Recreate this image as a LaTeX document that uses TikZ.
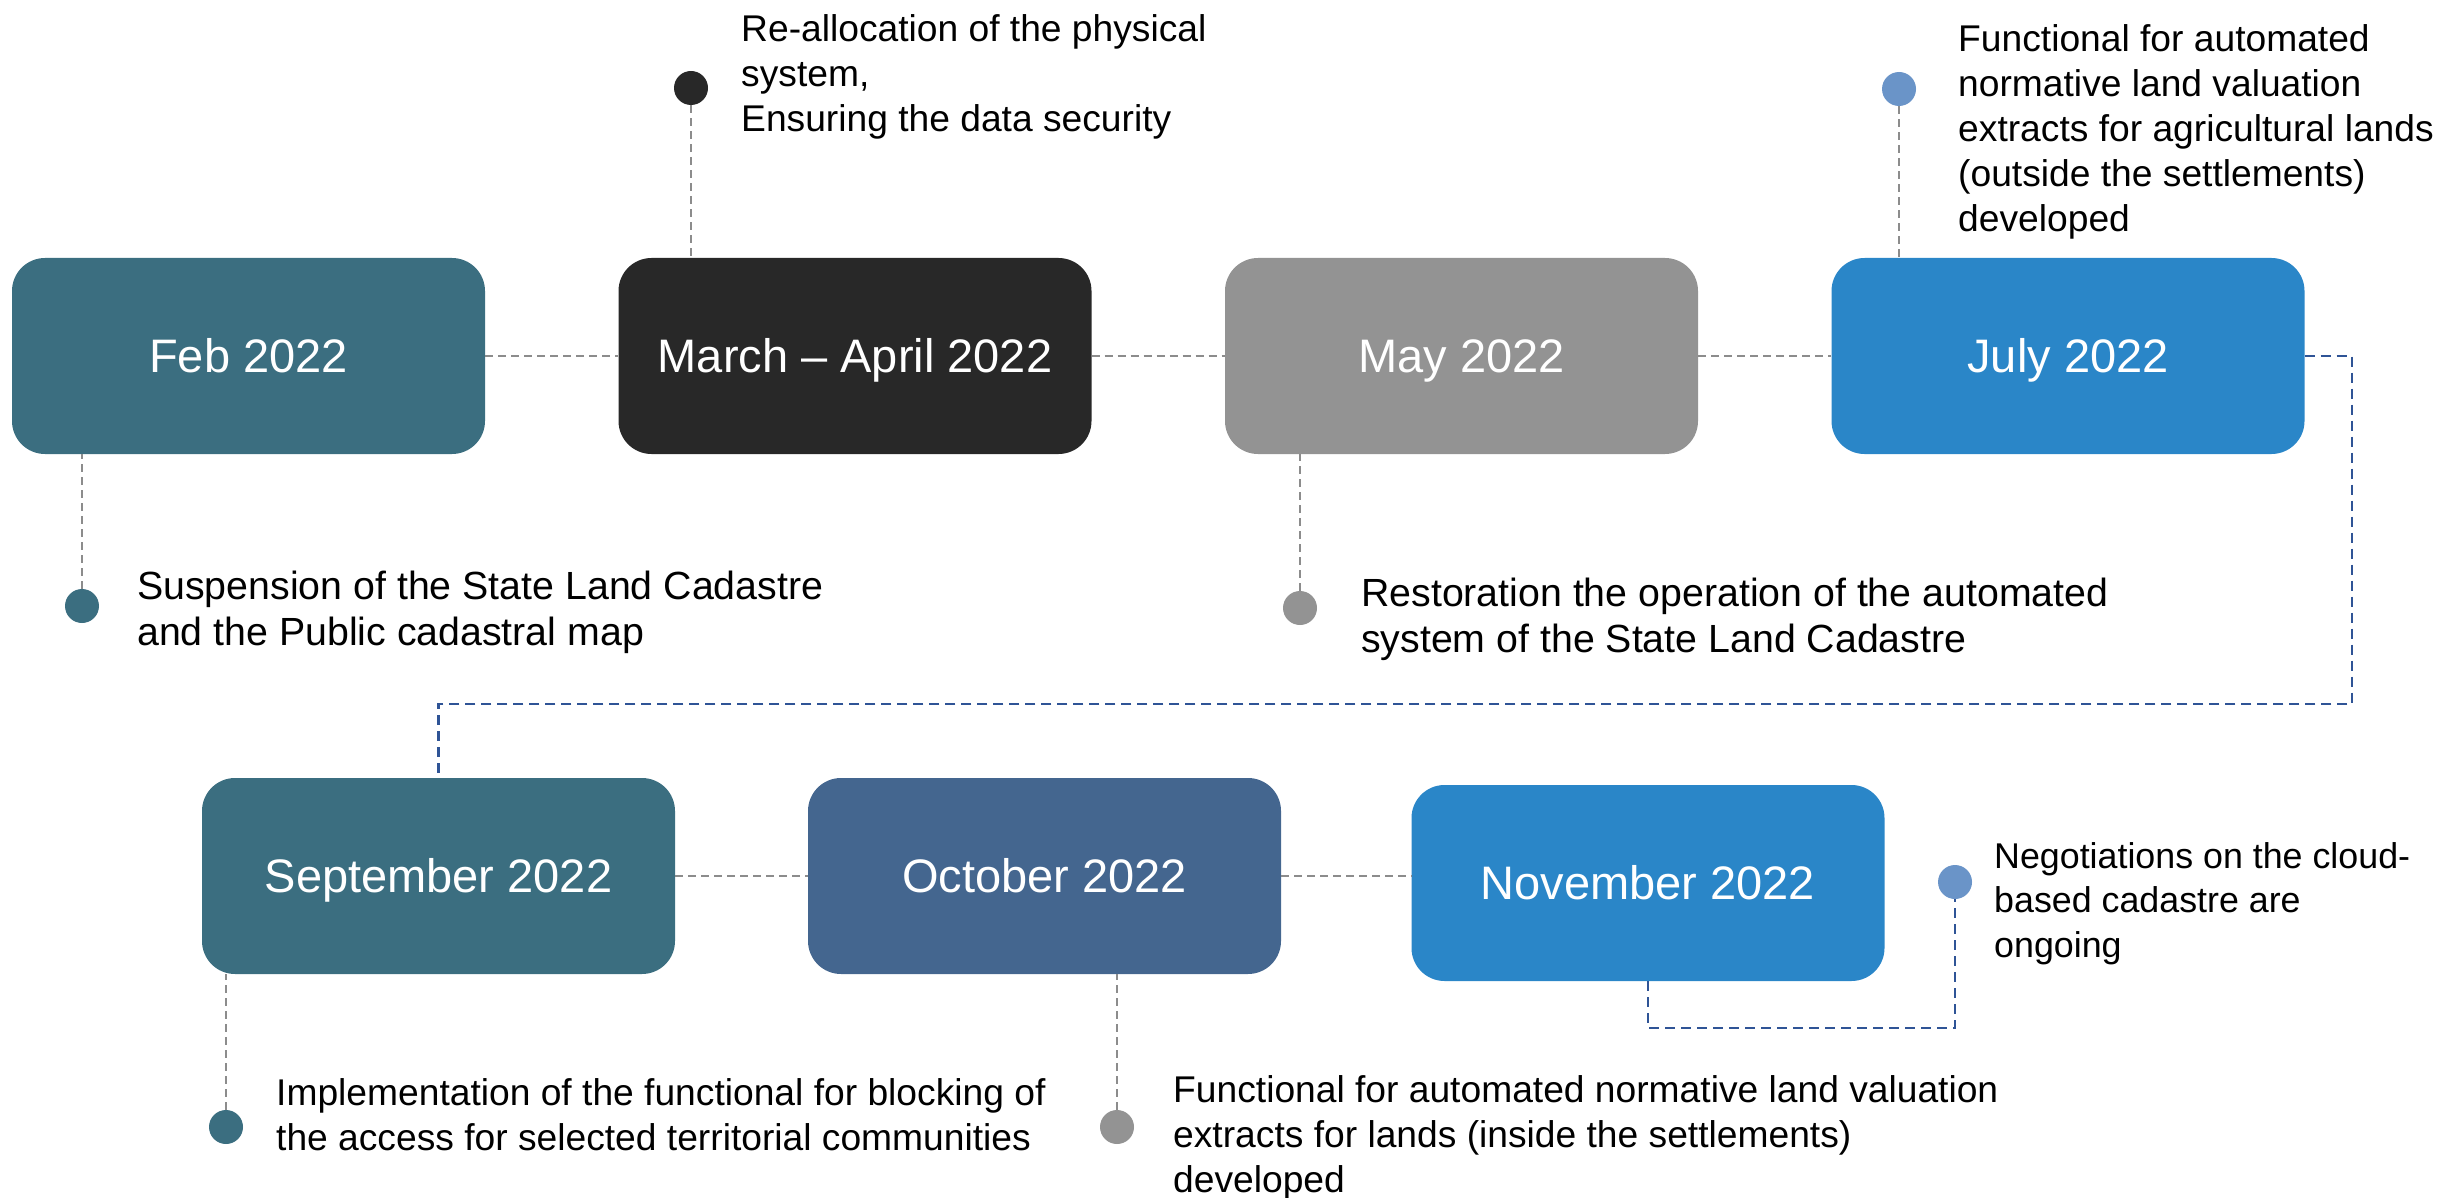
\documentclass[tikz,border=0pt]{standalone}
\usepackage{fontspec}
\setmainfont{Liberation Sans}
\definecolor{cteal}{HTML}{3B6E80}
\definecolor{cdark}{HTML}{282828}
\definecolor{cgray}{HTML}{939393}
\definecolor{cblue}{HTML}{2A86C8}
\definecolor{coct}{HTML}{44668F}
\definecolor{clight}{HTML}{6A94C8}
\definecolor{cgline}{HTML}{8C8C8C}
\definecolor{cbline}{HTML}{2F5496}
\begin{document}
\begin{tikzpicture}[x=1pt,y=-1pt,
  datebox/.style={rounded corners=33pt, minimum width=473pt, minimum height=196pt, inner sep=0pt, text=white, text height=33.7pt, text depth=0pt, font=\fontsize{47}{56}\selectfont},
  dot/.style={circle, minimum size=34pt, inner sep=0pt},
  desc/.style={anchor=base west, inner sep=0pt, font=\fontsize{37.2}{45}\selectfont},
  desclarge/.style={desc, font=\fontsize{39.3}{46}\selectfont},
  descsmall/.style={desc, font=\fontsize{35.8}{44.5}\selectfont},
  gdash/.style={draw=cgline, line width=2pt, dash pattern=on 8pt off 5pt},
  bdash/.style={draw=cbline, line width=2.5pt, dash pattern=on 10pt off 6pt}]
\useasboundingbox (0,0) rectangle (2438,1198);
\def\arraystretch{1}
% boxes
\node[datebox, fill=cteal] (feb) at (248.5,356) {Feb 2022};
\node[datebox, fill=cdark] (mar) at (855,356) {March – April 2022};
\node[datebox, fill=cgray] (may) at (1461.5,356) {May 2022};
\node[datebox, fill=cblue] (jul) at (2068,356) {July 2022};
\node[datebox, fill=cteal] (sep) at (438.5,876) {September 2022};
\node[datebox, fill=coct] (oct) at (1044.5,876) {October 2022};
\node[datebox, fill=cblue] (nov) at (1648,883) {November 2022};
% dots
\node[dot, fill=cteal] (febdot) at (82,606) {};
\node[dot, fill=cdark] (mardot) at (691,88) {};
\node[dot, fill=cgray] (maydot) at (1300,608) {};
\node[dot, fill=clight] (juldot) at (1899,89) {};
\node[dot, fill=cteal] (sepdot) at (226,1127) {};
\node[dot, fill=cgray] (octdot) at (1117,1127) {};
\node[dot, fill=clight] (novdot) at (1955,882) {};
% coordinates
\coordinate (jr) at (2352,704);
\coordinate (nb) at (1648,1028);
% connectors
\draw[gdash] (feb.east) -- (mar.west);
\draw[gdash] (mar.east) -- (may.west);
\draw[gdash] (may.east) -- (jul.west);
\draw[gdash] (sep.east) -- (oct.west);
\draw[gdash] (oct.east) -- (oct.east -| nov.west);
\draw[gdash] (febdot) -- (febdot |- feb.south);
\draw[gdash] (mardot) -- (mardot |- mar.north);
\draw[gdash] (maydot) -- (maydot |- may.south);
\draw[gdash] (juldot) -- (juldot |- jul.north);
\draw[gdash] (sepdot) -- (sepdot |- sep.south);
\draw[gdash] (octdot) -- (octdot |- oct.south);
\draw[bdash] (jul.east) -| (jr) -| (sep.north);
\draw[bdash] (nov.south) -- (nb) -| (novdot);
% texts
\node[desclarge] (febt) at (137,599) {\begin{tabular}[t]{@{}l@{}}Suspension of the State Land Cadastre\\and the Public cadastral map\end{tabular}};
\node[desc] (mart) at (741,42) {\begin{tabular}[t]{@{}l@{}}Re-allocation of the physical\\system,\\Ensuring the data security\end{tabular}};
\node[desclarge] (mayt) at (1361,606) {\begin{tabular}[t]{@{}l@{}}Restoration the operation of the automated\\system of the State Land Cadastre\end{tabular}};
\node[desc] (jult) at (1958,52) {\begin{tabular}[t]{@{}l@{}}Functional for automated\\normative land valuation\\extracts for agricultural lands\\(outside the settlements)\\developed\end{tabular}};
\node[descsmall] (novt) at (1994,868) {\begin{tabular}[t]{@{}l@{}}Negotiations on the cloud-\\based cadastre are\\ongoing\end{tabular}};
\node[desc] (sept) at (276,1105) {\begin{tabular}[t]{@{}l@{}}Implementation of the functional for blocking of\\the access for selected territorial communities\end{tabular}};
\node[desc] (octt) at (1173,1102) {\begin{tabular}[t]{@{}l@{}}Functional for automated normative land valuation\\extracts for lands (inside the settlements)\\developed\end{tabular}};
\end{tikzpicture}
\end{document}
